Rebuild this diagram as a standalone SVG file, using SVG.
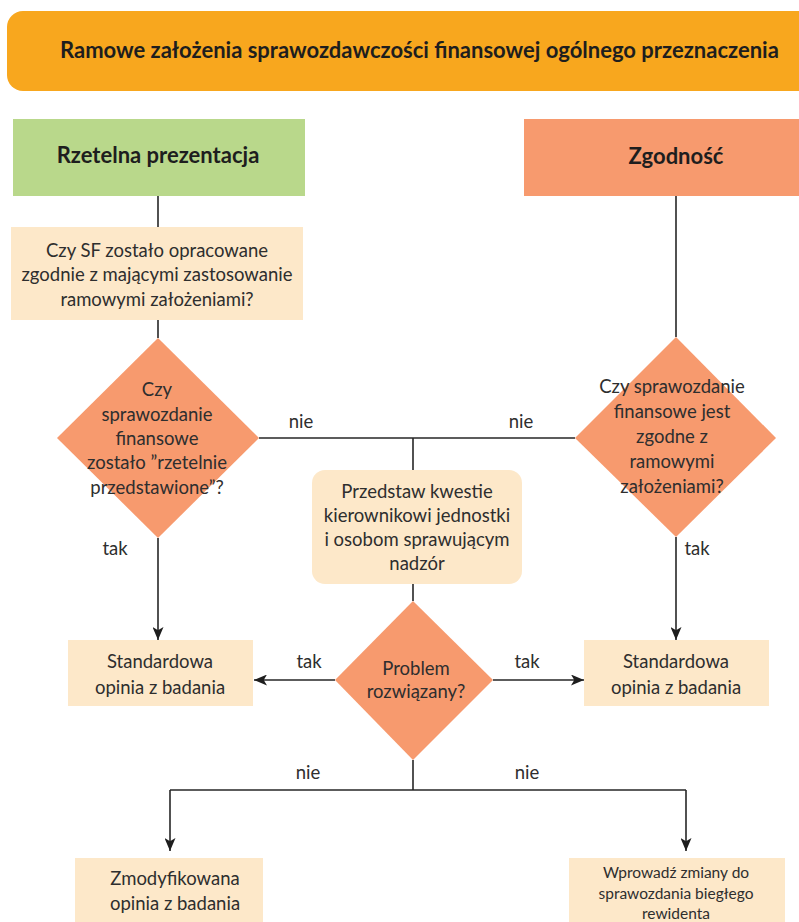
<svg xmlns="http://www.w3.org/2000/svg" width="799" height="922" viewBox="0 0 799 922">
<defs>
<style>
.t{font-family:Lato,"Open Sans","Liberation Sans",sans-serif;font-size:18.5px;fill:#2e2e2e;text-anchor:middle}
.b{font-family:Lato,"Open Sans","Liberation Sans",sans-serif;font-weight:bold;font-size:22px;fill:#1e1e1e;text-anchor:middle}
.l{fill:none;stroke:#262626;stroke-width:1.6}
.box{fill:#FDE8C9}
.dia{fill:#F79A6E}
</style>
<marker id="ah" viewBox="0 0 12 12" refX="12" refY="6" markerWidth="13" markerHeight="11" markerUnits="userSpaceOnUse" orient="auto" preserveAspectRatio="none">
<path d="M0,0 L12,6 L0,12 L3,6 Z" fill="#1e1e1e"/>
</marker>
</defs>
<rect width="799" height="922" fill="#fff"/>

<g id="connectors">
<path class="l" d="M158,196 V227"/>
<path class="l" d="M158,320 V338"/>
<path class="l" d="M676,196 V337"/>
<path class="l" d="M259,438 H575"/>
<path class="l" d="M413,438 V470"/>
<path class="l" d="M413,584 V601"/>
<path class="l" d="M158,538 V640" marker-end="url(#ah)"/>
<path class="l" d="M676,537 V640" marker-end="url(#ah)"/>
<path class="l" d="M335,680 H254" marker-end="url(#ah)"/>
<path class="l" d="M493,680 H584" marker-end="url(#ah)"/>
<path class="l" d="M413,760 V790"/>
<path class="l" d="M170,790 H686"/>
<path class="l" d="M170,790 V851" marker-end="url(#ah)"/>
<path class="l" d="M686,790 V851" marker-end="url(#ah)"/>
<text class="t" x="301" y="428">nie</text>
<text class="t" x="521" y="428">nie</text>
<text class="t" x="115" y="555">tak</text>
<text class="t" x="697" y="555">tak</text>
<text class="t" x="309" y="668">tak</text>
<text class="t" x="527" y="668">tak</text>
<text class="t" x="308" y="779">nie</text>
<text class="t" x="527" y="779">nie</text>
</g>

<g id="title">
<rect x="7" y="11" width="810" height="80" rx="16" fill="#F8A71E"/>
<text class="b" x="60" y="58" style="text-anchor:start;font-size:22px">Ramowe założenia sprawozdawczości finansowej ogólnego przeznaczenia</text>
</g>

<g id="rzetelna">
<rect x="13" y="119" width="292" height="77" fill="#B9D88B"/>
<text class="b" x="158" y="163">Rzetelna prezentacja</text>
</g>

<g id="zgodnosc">
<rect x="524" y="119" width="280" height="77" fill="#F79A6E"/>
<text class="b" x="676" y="164">Zgodność</text>
</g>

<g id="q-sf">
<rect class="box" x="11" y="227" width="292" height="93"/>
<text class="t" x="157" y="257">Czy SF zostało opracowane</text>
<text class="t" x="157" y="281">zgodnie z mającymi zastosowanie</text>
<text class="t" x="157" y="306">ramowymi założeniami?</text>
</g>

<g id="q-rzetelne">
<path class="dia" d="M158,338 L259,438 L158,538 L57,438 Z"/>
<text class="t" x="157" y="396">Czy</text>
<text class="t" x="157" y="421">sprawozdanie</text>
<text class="t" x="157" y="445">finansowe</text>
<text class="t" x="157" y="469">zostało ”rzetelnie</text>
<text class="t" x="157" y="494">przedstawione”?</text>
</g>

<g id="q-zgodne">
<path class="dia" d="M676,337 L776,438 L676,537 L575,438 Z"/>
<text class="t" x="672" y="393">Czy sprawozdanie</text>
<text class="t" x="672" y="418">finansowe jest</text>
<text class="t" x="672" y="443">zgodne z</text>
<text class="t" x="672" y="468">ramowymi</text>
<text class="t" x="672" y="493">założeniami?</text>
</g>

<g id="przedstaw">
<rect class="box" x="312" y="470" width="210" height="114" rx="13"/>
<text class="t" x="417" y="498">Przedstaw kwestie</text>
<text class="t" x="417" y="522">kierownikowi jednostki</text>
<text class="t" x="417" y="546">i osobom sprawującym</text>
<text class="t" x="417" y="570">nadzór</text>
</g>

<g id="problem">
<path class="dia" d="M413,601 L493,680 L413,760 L335,680 Z"/>
<text class="t" x="416" y="675">Problem</text>
<text class="t" x="416" y="698">rozwiązany?</text>
</g>

<g id="std-left">
<rect class="box" x="68" y="640" width="185" height="66"/>
<text class="t" x="160" y="668">Standardowa</text>
<text class="t" x="160" y="694">opinia z badania</text>
</g>

<g id="std-right">
<rect class="box" x="584" y="640" width="185" height="66"/>
<text class="t" x="676" y="668">Standardowa</text>
<text class="t" x="676" y="694">opinia z badania</text>
</g>

<g id="zmodyfikowana">
<rect class="box" x="75" y="858" width="188" height="70"/>
<text class="t" x="175" y="885">Zmodyfikowana</text>
<text class="t" x="175" y="910">opinia z badania</text>
</g>

<g id="wprowadz">
<rect class="box" x="569" y="858" width="216" height="70"/>
<text class="t" x="676" y="878" style="font-size:15.5px">Wprowadź zmiany do</text>
<text class="t" x="676" y="899" style="font-size:15.5px">sprawozdania biegłego</text>
<text class="t" x="676" y="919" style="font-size:15.5px">rewidenta</text>
</g>
</svg>
